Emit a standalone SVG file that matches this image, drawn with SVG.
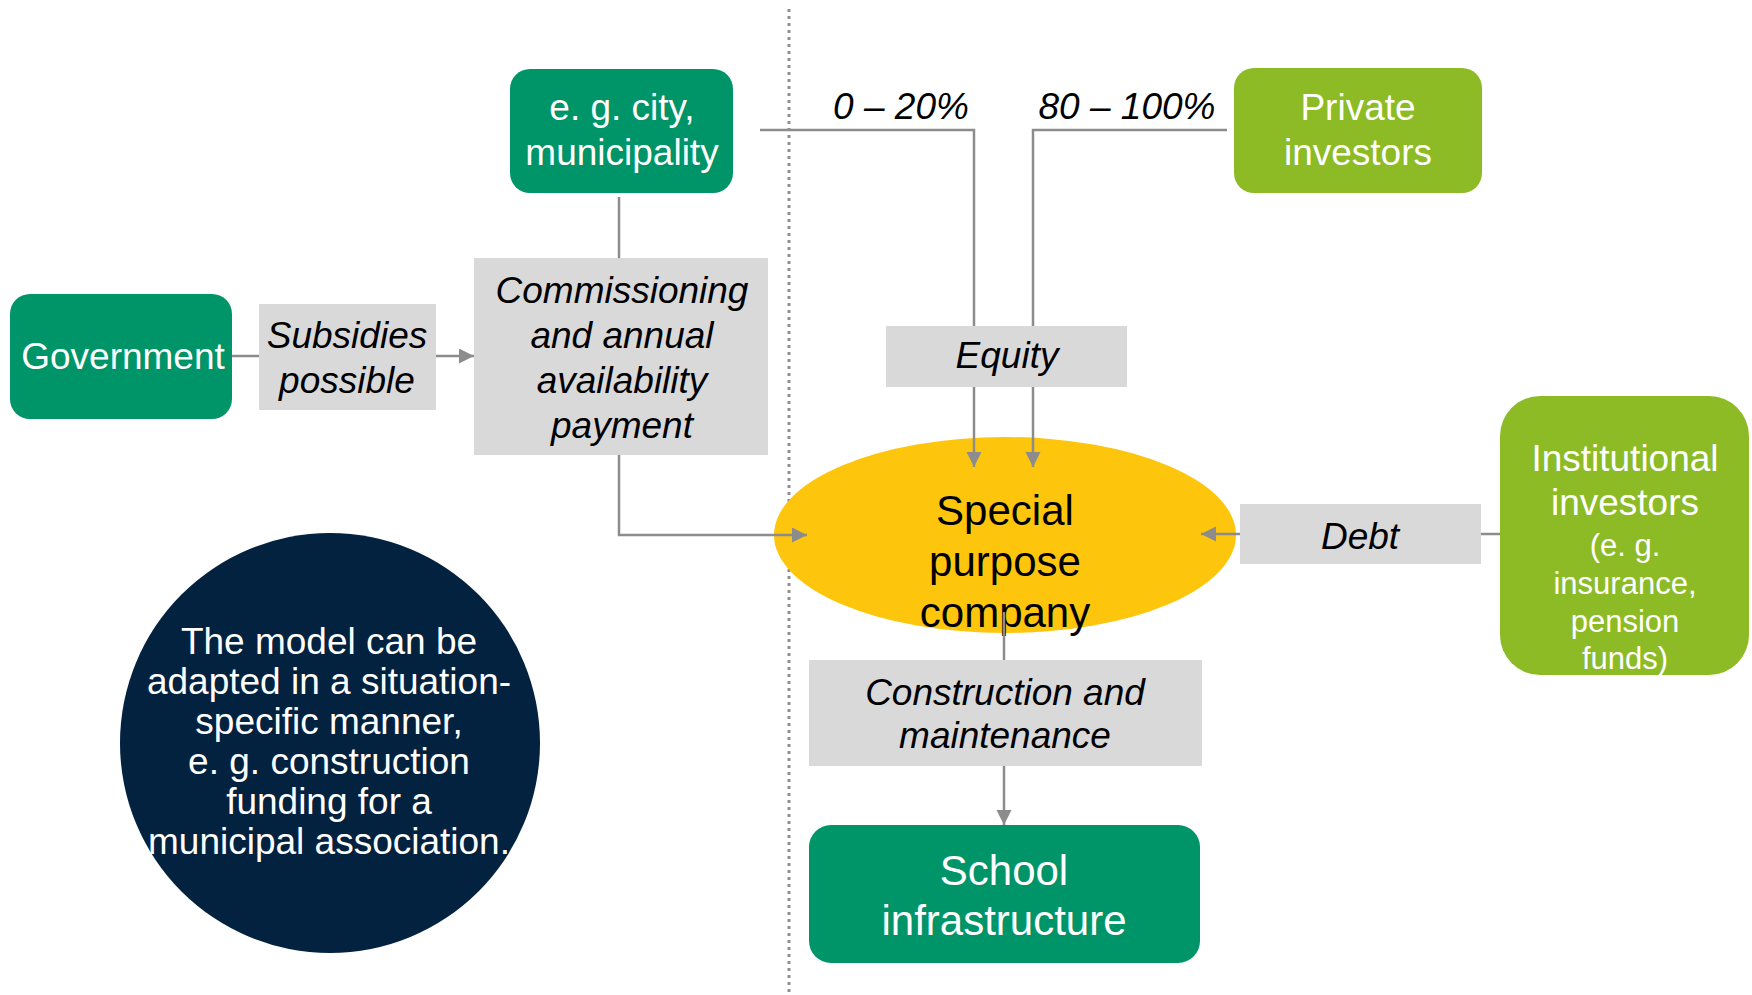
<svg xmlns="http://www.w3.org/2000/svg" width="1752" height="995" viewBox="0 0 1752 995">
<style>
  text { font-family: "Liberation Sans", Arial, sans-serif; text-anchor: middle; }
  .node { fill: #ffffff; font-size: 37px; }
  .big { font-size: 42px; }
  .small { font-size: 31px; }
  .lbl { fill: #000000; font-size: 37px; font-style: italic; }
  .teal { fill: #009469; }
  .lime { fill: #8dbb25; }
  .gray { fill: #d9d9d9; }
  .conn { fill: none; stroke: #8c8c8c; stroke-width: 2.5; }
</style>
<defs>
  <marker id="arr" markerWidth="16" markerHeight="16" refX="15" refY="7.5" orient="auto" markerUnits="userSpaceOnUse">
    <path d="M0,0 L15,7.5 L0,15 z" fill="#8c8c8c"/>
  </marker>
</defs>
<rect width="1752" height="995" fill="#ffffff"/>

<line x1="789" y1="9" x2="789" y2="995" stroke="#8f8f8f" stroke-width="3" stroke-dasharray="3 4"/>

<g id="circle-note">
  <circle cx="330" cy="743" r="210" fill="#03223f"/>
  <text class="node" x="329" y="654">The model can be</text>
  <text class="node" x="329" y="694">adapted in a situation-</text>
  <text class="node" x="329" y="734">specific manner,</text>
  <text class="node" x="329" y="774">e. g. construction</text>
  <text class="node" x="329" y="814">funding for a</text>
  <text class="node" x="329" y="854">municipal association.</text>
</g>

<g id="spc">
  <ellipse cx="1005" cy="535" rx="231" ry="98" fill="#fdc60d"/>
  <text class="big" x="1005" y="525" fill="#000">Special</text>
  <text class="big" x="1005" y="576" fill="#000">purpose</text>
  <text class="big" x="1005" y="627" fill="#000">company</text>
</g>

<g id="connectors">
  <path class="conn" d="M232 356 H259"/>
  <path class="conn" d="M436 356 H474" marker-end="url(#arr)"/>
  <path class="conn" d="M619 197 V258"/>
  <path class="conn" d="M619 455 V535 H807" marker-end="url(#arr)"/>
  <path class="conn" d="M760 130 H974 V326"/>
  <path class="conn" d="M1227 130 H1033 V326"/>
  <path class="conn" d="M974 387 V467" marker-end="url(#arr)"/>
  <path class="conn" d="M1033 387 V467" marker-end="url(#arr)"/>
  <path class="conn" d="M1502 534 H1481"/>
  <path class="conn" d="M1240 534 H1201" marker-end="url(#arr)"/>
  <path class="conn" d="M1004 612 V660"/>
  <path class="conn" d="M1004 766 V825" marker-end="url(#arr)"/>
</g>

<g id="city">
  <rect class="teal" x="510" y="69" width="223" height="124" rx="20"/>
  <text class="node" x="622" y="120">e. g. city,</text>
  <text class="node" x="622" y="165">municipality</text>
</g>

<g id="private">
  <rect class="lime" x="1234" y="68" width="248" height="125" rx="20"/>
  <text class="node" x="1358" y="120">Private</text>
  <text class="node" x="1358" y="165">investors</text>
</g>

<g id="government">
  <rect class="teal" x="10" y="294" width="222" height="125" rx="20"/>
  <text class="node" x="123" y="369">Government</text>
</g>

<g id="subsidies">
  <rect class="gray" x="259" y="304" width="177" height="106"/>
  <text class="lbl" x="347" y="348">Subsidies</text>
  <text class="lbl" x="347" y="393">possible</text>
</g>

<g id="commissioning">
  <rect class="gray" x="474" y="258" width="294" height="197"/>
  <text class="lbl" x="622" y="303">Commissioning</text>
  <text class="lbl" x="622" y="348">and annual</text>
  <text class="lbl" x="622" y="393">availability</text>
  <text class="lbl" x="622" y="438">payment</text>
</g>

<g id="pct-labels">
  <text class="lbl" x="901" y="119">0 – 20%</text>
  <text class="lbl" x="1127" y="119">80 – 100%</text>
</g>

<g id="equity">
  <rect class="gray" x="886" y="326" width="241" height="61"/>
  <text class="lbl" x="1007" y="368">Equity</text>
</g>

<g id="debt">
  <rect class="gray" x="1240" y="504" width="241" height="60"/>
  <text class="lbl" x="1360" y="549">Debt</text>
</g>

<g id="institutional">
  <rect class="lime" x="1500" y="396" width="249" height="279" rx="40"/>
  <text class="node" x="1625" y="471">Institutional</text>
  <text class="node" x="1625" y="515">investors</text>
  <text class="node small" x="1625" y="556">(e. g.</text>
  <text class="node small" x="1625" y="594">insurance,</text>
  <text class="node small" x="1625" y="632">pension</text>
  <text class="node small" x="1625" y="669">funds)</text>
</g>

<g id="construction">
  <rect class="gray" x="809" y="660" width="393" height="106"/>
  <text class="lbl" x="1005" y="705">Construction and</text>
  <text class="lbl" x="1005" y="748">maintenance</text>
</g>

<g id="school">
  <rect class="teal" x="809" y="825" width="391" height="138" rx="22"/>
  <text class="node big" x="1004" y="885">School</text>
  <text class="node big" x="1004" y="935">infrastructure</text>
</g>
</svg>
